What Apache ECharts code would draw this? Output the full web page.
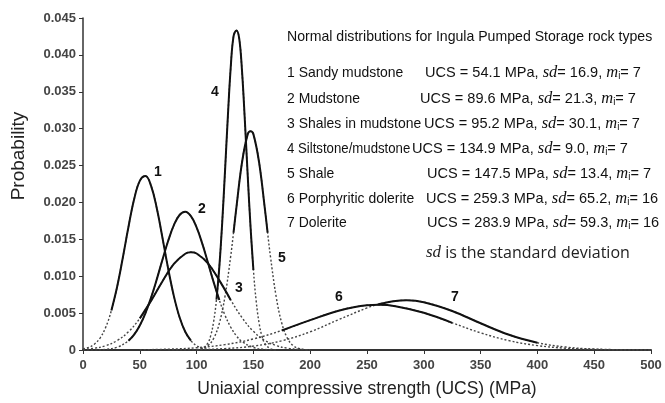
<!DOCTYPE html>
<html><head><meta charset="utf-8">
<script src="https://cdn.jsdelivr.net/npm/echarts@6/dist/echarts.min.js"></script>
<style>html,body{margin:0;padding:0;background:#fff}#c{width:665px;height:403px}</style>
</head><body><div id="c"></div>
<script>
// Curve 1: Sandy mudstone
const x1 = [0,5,10,15,20,25,30,35,40,45,50,55,60,65,70,75,80,85,90,95,100,105,110];
const p1 = [0.00014,0.00035,0.00079,0.00162,0.00308,0.00536,0.00854,0.01247,0.01667,0.02042,0.02293,0.02358,0.02222,0.01918,0.01517,0.01099,0.0073,0.00444,0.00247,0.00126,0.00059,0.00025,0.0001];
const solid1 = [25, 95];
// Curve 2: Mudstone
const x2 = [0,10,20,30,40,45,50,55,60,65,70,75,80,85,90,95,100,105,110,115,120,125,130,135,140,150,160,170];
const p2 = [0.000003,0.000017,0.00009,0.00037,0.00125,0.00209,0.00333,0.00501,0.00713,0.00961,0.01226,0.01481,0.01692,0.0183,0.01873,0.01814,0.01662,0.01442,0.01184,0.0092,0.00677,0.00471,0.0031,0.00193,0.00114,0.00034,0.00008,0.000015];
const solid2 = [40, 120];
// Curve 3: Shales in mudstone
const x3 = [0,10,20,30,40,50,60,70,80,90,95,100,110,120,130,140,150,160,170,180,190,200];
const p3 = [0.00009,0.00024,0.00058,0.00127,0.00247,0.00429,0.00669,0.00933,0.01166,0.01305,0.01325,0.01308,0.01174,0.00944,0.00679,0.00438,0.00253,0.0013,0.0006,0.00025,0.00009,0.00003];
const solid3 = [45, 130];
// Curve 4: Siltstone/mudstone
const x4 = [100,105,110,112.5,115,117.5,120,122.5,125,127.5,130,132.5,135,137.5,140,142.5,145,147.5,150,152.5,155,157.5,160,165,170];
const p4 = [0.000024,0.00018,0.00097,0.002,0.00385,0.00684,0.01126,0.01716,0.02421,0.03162,0.03822,0.04250,0.0433,0.04225,0.03776,0.03104,0.02362,0.01664,0.01085,0.00655,0.00366,0.00189,0.00091,0.00017,0.00002];
const solid4 = [117.5, 150];
// Curve 5: Shale
const x5 = [100,105,110,115,120,125,130,132.5,135,140,145,147.5,150,155,160,162.5,165,170,175,180,185,190,195,200];
const p5 = [0.000056,0.0002,0.00059,0.00157,0.00362,0.00727,0.01269,0.01591,0.01927,0.02545,0.02926,0.02965,0.02926,0.02545,0.01927,0.01591,0.01269,0.00727,0.00362,0.00157,0.00059,0.0002,0.000056,0.000014];
const solid5 = [132.5, 162.5];
// Curve 6: Porphyritic dolerite
const x6 = [50,75,100,125,150,175,200,225,250,260,275,300,325,350,375,400,425,450,475,500];
const p6 = [0.000035,0.00011,0.00031,0.00073,0.0015,0.00265,0.00405,0.00533,0.00606,0.00612,0.00594,0.00504,0.00368,0.00233,0.00127,0.0006,0.00024,0.000085,0.000026,0.000007];
const solid6 = [175, 325];
// Curve 7: Dolerite
const x7 = [75,100,125,150,175,200,225,250,260,275,285,300,325,350,375,400,425,450,475,500];
const p7 = [0.000014,0.000055,0.00019,0.00053,0.00125,0.00247,0.00411,0.00571,0.0062,0.00665,0.00673,0.00648,0.00529,0.00362,0.00207,0.00099,0.0004,0.00013,0.000037,0.000009];
const solid7 = [260, 400];

const curveLabels = ['1','2','3','4','5','6','7'];
const legendTitle = 'Normal distributions for Ingula Pumped Storage rock types';
const rockNames = ['1 Sandy mudstone','2 Mudstone','3 Shales in mudstone','4 Siltstone/mudstone','5 Shale','6 Porphyritic dolerite','7 Dolerite'];
const ucsValues = ['54.1','89.6','95.2','134.9','147.5','259.3','283.9'];
const sdValues = ['16.9','21.3','30.1','9.0','13.4','65.2','59.3'];
const miValues = ['7','7','7','7','7','16','16'];
const xTicks = {min:0, max:500, interval:50};
const yTicks = {min:0, max:0.045, interval:0.005};

const curves = [[x1,p1,solid1],[x2,p2,solid2],[x3,p3,solid3],[x4,p4,solid4],[x5,p5,solid5],[x6,p6,solid6],[x7,p7,solid7]];
const series = [];
curves.forEach(([xs, ps, sr]) => {
  const all = xs.map((x,i)=>[x, ps[i]]);
  series.push({type:'line', data: all, smooth:0.4, symbol:'none', silent:true,
    lineStyle:{color:'#444', width:1.4, type:[2,2]}, z:2});
});
curves.forEach(([xs, ps, sr]) => {
  const part = xs.map((x,i)=>[x, ps[i]]).filter(d => d[0] >= sr[0] && d[0] <= sr[1]);
  series.push({type:'line', data: part, smooth:0.4, symbol:'none', silent:true,
    lineStyle:{color:'#111', width:2}, z:3});
});

const chart = echarts.init(document.getElementById('c'), null, {renderer:'canvas'});
const lblPos = [[158,172],[202,209],[239,288],[215,92],[282,258],[339,297],[455,297]];
const rowY = [73,99,124,149,174,199,223];
const rowX = [425,420,424,412,427,426,427];
const nameScale = [0.93,0.93,0.93,0.88,0.93,0.93,0.93];
const sans = '"Liberation Sans", Arial, sans-serif';
const graphics = [];
curveLabels.forEach((t,i)=>graphics.push({type:'text', x:lblPos[i][0], y:lblPos[i][1],
  style:{text:t, font:'bold 14px '+sans, fill:'#111', align:'center', verticalAlign:'middle'}}));
graphics.push({type:'text', x:287, y:37, scaleX:0.94, style:{text:legendTitle, font:'15px '+sans, fill:'#111', verticalAlign:'middle'}});
rockNames.forEach((n,i)=>{
  graphics.push({type:'text', x:287, y:rowY[i], scaleX:nameScale[i], style:{text:n, font:'15px '+sans, fill:'#111', verticalAlign:'middle'}});
  graphics.push({type:'text', x:rowX[i], y:rowY[i], scaleX:0.97, style:{
    text:'UCS = '+ucsValues[i]+' MPa, {it|sd}= '+sdValues[i]+', {it|m}{sub|i}= '+miValues[i],
    font:'15px '+sans, fill:'#111', verticalAlign:'middle',
    rich:{it:{fontFamily:'"Liberation Serif",serif', fontStyle:'italic', fontSize:17, fill:'#111'},
          sub:{fontFamily:'"Liberation Sans",sans-serif', fontSize:10, fill:'#111', padding:[6,0,0,0]}}}});
});
graphics.push({type:'text', x:426, y:253, style:{
  text:'{it|sd} is the standard deviation', font:'16px "Open Sans", sans-serif', fill:'#222', verticalAlign:'middle',
  rich:{it:{fontFamily:'"Liberation Serif",serif', fontStyle:'italic', fontSize:17, fill:'#222'}}}});
graphics.push({type:'text', x:19, y:156, rotation:Math.PI/2, style:{
  text:'Probability', font:'19px '+sans, fill:'#222', align:'center', verticalAlign:'middle'}});

chart.setOption({
  animation:false,
  backgroundColor:'#fff',
  grid:{left:83, right:14, top:18, bottom:51},
  xAxis:{type:'value', min:xTicks.min, max:xTicks.max, interval:xTicks.interval,
    name:'Uniaxial compressive strength (UCS) (MPa)', nameLocation:'middle', nameGap:30,
    nameTextStyle:{fontSize:17.5, color:'#222', fontFamily:sans},
    axisLine:{lineStyle:{color:'#333', width:2}},
    axisTick:{show:true, length:4, lineStyle:{color:'#333'}},
    axisLabel:{fontSize:13, color:'#444', fontWeight:'bold', margin:9, fontFamily:sans},
    splitLine:{show:false}},
  yAxis:{type:'value', min:yTicks.min, max:yTicks.max, interval:yTicks.interval,
    axisLine:{show:true, lineStyle:{color:'#333', width:1.5}},
    axisTick:{show:true, length:4, lineStyle:{color:'#333'}},
    axisLabel:{fontSize:13, color:'#444', fontWeight:'bold', margin:7, fontFamily:sans,
      formatter: v => v === 0 ? '0' : v.toFixed(3)},
    splitLine:{show:false}},
  series: series,
  graphic: graphics
});
</script></body></html>
